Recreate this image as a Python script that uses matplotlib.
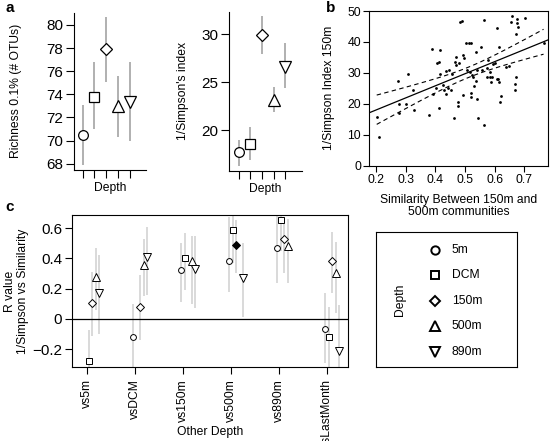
import numpy as np
import matplotlib
matplotlib.use('Agg')
import matplotlib.pyplot as plt

plt.rcParams['font.family'] = ['Liberation Sans', 'DejaVu Sans']

# depth groups and their R-style plotting symbols
depths = ['5m', 'DCM', '150m', '500m', '890m']
markers = ['o', 's', 'D', '^', 'v']
msize_a = [7, 6.5, 5.8, 9, 9]
msize_c = [4.2, 3.8, 3.6, 5.6, 5.6]

# panel a: richness and 1/Simpson per depth (mean and interval)
richness = [70.5, 73.8, 77.9, 73.0, 73.3]
richness_lo = [67.9, 71.0, 75.1, 70.3, 70.0]
richness_hi = [73.1, 76.8, 80.7, 75.6, 76.8]

simpson = [17.7, 18.6, 29.9, 23.2, 26.6]
simpson_lo = [16.3, 16.9, 27.9, 21.9, 24.4]
simpson_hi = [19.0, 20.4, 31.9, 24.5, 29.1]

# panel b: similarity 150m vs 500m against 1/Simpson at 150m
sim_x = [0.202, 0.211, 0.273, 0.278, 0.278, 0.306, 0.302, 0.324, 0.329, 0.380,
         0.390, 0.391, 0.402, 0.407, 0.412, 0.416, 0.412, 0.414, 0.425, 0.430,
         0.435, 0.435, 0.444, 0.447, 0.451, 0.456, 0.463, 0.466, 0.471, 0.471,
         0.475, 0.476, 0.479, 0.484, 0.491, 0.492, 0.494, 0.498, 0.503, 0.508,
         0.512, 0.517, 0.520, 0.519, 0.520, 0.522, 0.526, 0.530, 0.536, 0.539,
         0.538, 0.542, 0.545, 0.553, 0.556, 0.563, 0.565, 0.573, 0.573, 0.579,
         0.584, 0.584, 0.587, 0.590, 0.596, 0.601, 0.607, 0.607, 0.612, 0.616,
         0.616, 0.620, 0.619, 0.638, 0.648, 0.656, 0.660, 0.675, 0.677, 0.679,
         0.673, 0.672, 0.669, 0.667, 0.702, 0.765]
simpson_150 = [15.8, 9.4, 27.5, 19.9, 16.9, 29.6, 19.9, 24.5, 17.9, 16.4,
               37.6, 23.1, 25.0, 33.3, 33.5, 37.4, 18.8, 29.6, 26.2, 24.5,
               30.5, 23.2, 25.0, 30.9, 24.4, 29.6, 15.3, 33.6, 35.2, 32.5,
               20.7, 19.3, 33.1, 46.6, 46.8, 22.8, 35.8, 34.9, 39.8, 30.9,
               39.5, 30.4, 39.8, 23.6, 22.1, 29.3, 28.6, 25.8, 36.9, 30.9,
               27.5, 21.4, 15.3, 38.5, 30.9, 47.1, 13.1, 31.5, 28.8, 34.2,
               30.4, 28.8, 27.2, 28.8, 32.8, 33.3, 44.6, 28.0, 27.9, 38.5,
               27.2, 22.5, 20.7, 32.0, 32.2, 46.6, 48.4, 47.3, 46.0, 44.9,
               42.5, 28.6, 26.4, 24.5, 47.8, 39.5]

# panel c: R value (1/Simpson vs similarity) for each depth against other depths
others = ['vs5m', 'vsDCM', 'vs150m', 'vs500m', 'vs890m', 'vsLastMonth']
nan = np.nan
r_val = {
    '5m':   [nan, -0.117, 0.32, 0.385, 0.47, -0.066],
    'DCM':  [-0.28, nan, 0.40, 0.587, 0.65, -0.117],
    '150m': [0.108, 0.08, nan, 0.488, 0.53, 0.385],
    '500m': [0.28, 0.357, 0.38, nan, 0.48, 0.30],
    '890m': [0.17, 0.41, 0.33, 0.27, nan, -0.21],
}
r_lo = {
    '5m':   [nan, -0.33, 0.11, 0.18, 0.24, -0.29],
    'DCM':  [-0.45, nan, 0.19, 0.37, 0.45, -0.33],
    '150m': [-0.11, -0.14, nan, 0.30, 0.30, 0.17],
    '500m': [0.06, 0.15, 0.10, nan, 0.24, 0.04],
    '890m': [-0.10, 0.16, 0.07, 0.01, nan, -0.40],
}
r_hi = {
    '5m':   [nan, 0.10, 0.50, 0.675, 0.70, 0.17],
    'DCM':  [-0.07, nan, 0.57, 0.72, 0.75, 0.08],
    '150m': [0.31, 0.29, nan, 0.65, 0.66, 0.576],
    '500m': [0.47, 0.53, 0.55, nan, 0.66, 0.51],
    '890m': [0.42, 0.61, 0.55, 0.50, nan, 0.09],
}
filled_pairs = [('150m', 'vs500m')]

W, H = 550, 441
fig = plt.figure(figsize=(5.5, 4.41), dpi=100)


def px_axes(x0, y0, x1, y1):
    return fig.add_axes([x0 / W, 1 - y1 / H, (x1 - x0) / W, (y1 - y0) / H])


def r_style(ax, labelsize):
    ax.tick_params(direction='out', length=5, width=0.8, labelsize=labelsize, pad=2)
    for s in ax.spines.values():
        s.set_linewidth(0.8)


# ---- panel a ----
ax1 = px_axes(74, 12.7, 145.7, 170)
ax2 = px_axes(229.3, 11.7, 301.7, 170.7)
pos = np.arange(1, 6)
for ax, vals, lo, hi in [(ax1, richness, richness_lo, richness_hi),
                         (ax2, simpson, simpson_lo, simpson_hi)]:
    ax.vlines(pos, lo, hi, color='#aaaaaa', lw=1.3, zorder=1)
    for i, d in enumerate(depths):
        ax.plot(pos[i], vals[i], marker=markers[i], ms=msize_a[i], mfc='white',
                mec='black', mew=0.9, ls='none', zorder=3)
    ax.spines['top'].set_visible(False)
    ax.spines['right'].set_visible(False)
    ax.set_xticks(pos)
    ax.set_xticklabels([])
    r_style(ax, 11)
    ax.tick_params(length=6)
    ax.set_xlabel('Depth', fontsize=8.7)
    ax.xaxis.set_label_coords(0.5, -0.075)

ax1.set_xlim(0.26, 6.36)
ax1.set_ylim(67.45, 81.06)
ax1.set_yticks([68, 70, 72, 74, 76, 78, 80])
ax1.set_ylabel('Richness 0.1% (# OTUs)', fontsize=8.7)
ax1.yaxis.set_label_coords(-0.72, 0.5)

ax2.set_xlim(0.2, 6.42)
ax2.set_ylim(15.8, 32.35)
ax2.set_yticks([20, 25, 30])
ax2.set_ylabel("1/Simpson's index", fontsize=8.7)
ax2.yaxis.set_label_coords(-0.55, 0.5)

# ---- panel b ----
axb = px_axes(369.3, 11, 548.3, 165.7)
bx = np.array(sim_x)
by = np.array(simpson_150)
axb.plot(bx, by, 'o', ms=2, color='black', mec='none')
slope, icpt = np.polyfit(bx, by, 1)
xl = np.array([0.177, 0.781])
axb.plot(xl, icpt + slope * xl, color='black', lw=0.9)
n = len(bx)
resid = by - (icpt + slope * bx)
s = np.sqrt(np.sum(resid ** 2) / (n - 2))
xs = np.linspace(bx.min(), bx.max(), 50)
se = s * np.sqrt(1 / n + (xs - bx.mean()) ** 2 / np.sum((bx - bx.mean()) ** 2))
fit = icpt + slope * xs
axb.plot(xs, fit + 1.99 * se, color='black', lw=0.8, ls=(0, (4, 3)))
axb.plot(xs, fit - 1.99 * se, color='black', lw=0.8, ls=(0, (4, 3)))
axb.set_xlim(0.177, 0.781)
axb.set_ylim(0, 50)
axb.set_xticks([0.2, 0.3, 0.4, 0.5, 0.6, 0.7])
axb.set_yticks([0, 10, 20, 30, 40, 50])
r_style(axb, 8.8)
axb.tick_params(length=4)
axb.set_xlabel('Similarity Between 150m and\n500m communities', fontsize=8.7,
               linespacing=1.1)
axb.xaxis.set_label_coords(0.5, -0.18)
axb.set_ylabel('1/Simpson Index 150m', fontsize=8.7)
axb.yaxis.set_label_coords(-0.19, 0.5)

# ---- panel c ----
axc = px_axes(72, 215, 348, 367)
cpos = np.arange(1, len(others) + 1)
offsets = [-0.03, 0.04, 0.11, 0.18, 0.25]
for i, d in enumerate(depths):
    xi = cpos + offsets[i]
    axc.vlines(xi, r_lo[d], r_hi[d], color='#cfcfcf', lw=1.1, zorder=1)
for i, d in enumerate(depths):
    xi = cpos + offsets[i]
    for j, o in enumerate(others):
        if np.isnan(r_val[d][j]):
            continue
        fc = 'black' if (d, o) in filled_pairs else 'white'
        axc.plot(xi[j], r_val[d][j], marker=markers[i], ms=msize_c[i], mfc=fc,
                 mec='black', mew=0.7, ls='none', zorder=3)
axc.axhline(0, color='black', lw=0.9, zorder=2)
axc.set_xlim(0.69, 6.44)
axc.set_ylim(-0.317, 0.686)
axc.set_xticks(cpos)
axc.set_xticklabels(others, rotation=90, fontsize=8.7)
axc.set_yticks([-0.2, 0, 0.2, 0.4, 0.6])
axc.set_yticklabels(['\u22120.2', '0', '0.2', '0.4', '0.6'])
r_style(axc, 11)
axc.tick_params(axis='x', labelsize=8.7, pad=4)
axc.set_xlabel('Other Depth', fontsize=8.7)
axc.xaxis.set_label_coords(0.5, -0.39)
axc.set_ylabel('R value\n1/Simpson vs Similarity', fontsize=8.7, linespacing=1.15)
axc.yaxis.set_label_coords(-0.155, 0.5)

# ---- legend box ----
axl = px_axes(376, 232, 517.3, 367)
axl.set_xlim(0, 1)
axl.set_ylim(0, 1)
axl.set_xticks([])
axl.set_yticks([])
for sp in axl.spines.values():
    sp.set_linewidth(0.8)
leg_y = np.linspace(0.87, 0.113, len(depths))
leg_ms = [6, 5.5, 5, 7, 7]
for i, d in enumerate(depths):
    axl.plot(0.418, leg_y[i], marker=markers[i], ms=leg_ms[i], mfc='white',
             mec='black', mew=1.4, ls='none')
    axl.text(0.536, leg_y[i], d, fontsize=8.7, va='center', ha='left')
axl.text(0.17, 0.5, 'Depth', rotation=90, fontsize=8.7, va='center', ha='center')

# panel letters
fig.text(5 / W, 1 - 8 / H, 'a', fontsize=11, fontweight='bold', va='center')
fig.text(326 / W, 1 - 8 / H, 'b', fontsize=11, fontweight='bold', va='center')
fig.text(5 / W, 1 - 207 / H, 'c', fontsize=11, fontweight='bold', va='center')

fig.savefig('out.png', dpi=100)
